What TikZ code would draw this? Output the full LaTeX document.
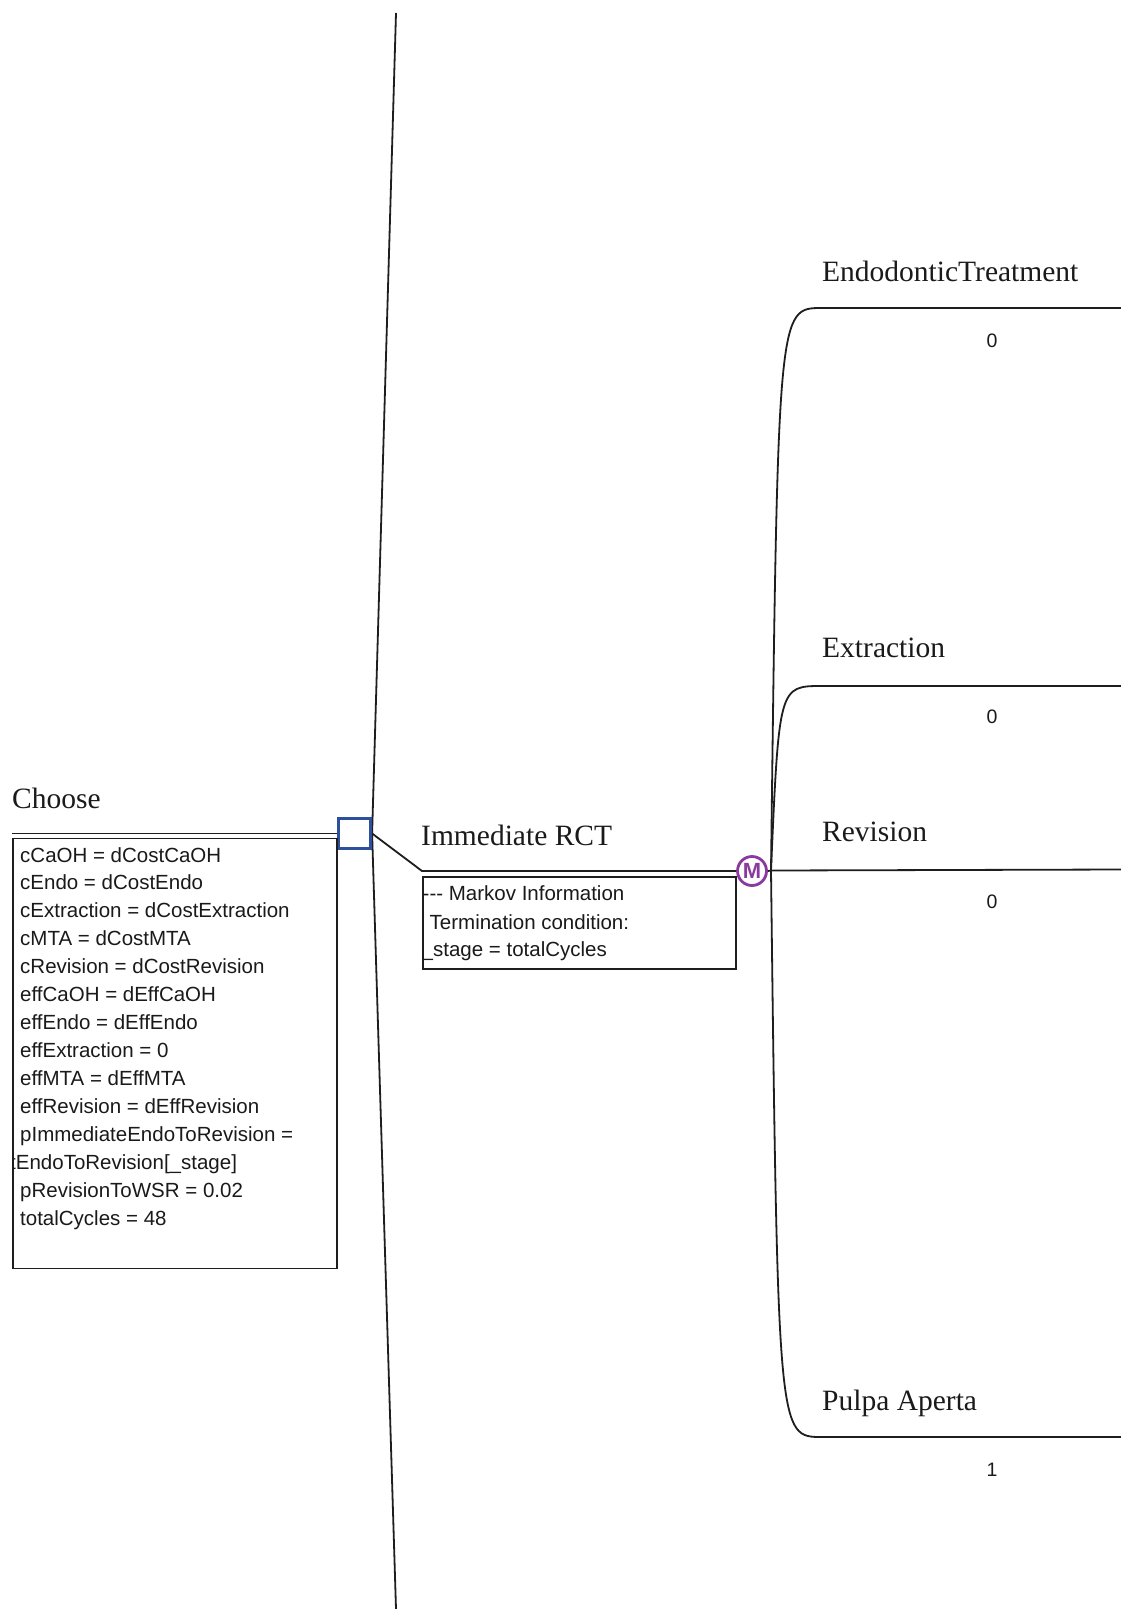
\documentclass[tikz,border=0pt]{standalone}
\usepackage{fontspec}
\setmainfont{Liberation Serif}
\newfontfamily\treesans{Liberation Sans}
\definecolor{ink}{HTML}{1E1E1E}
\definecolor{txt}{HTML}{1A1A1A}
\definecolor{decblue}{HTML}{2D4F9E}
\definecolor{markovpurple}{HTML}{8A3A9E}
\begin{document}
\begin{tikzpicture}[x=1pt,y=-1pt,
  wire/.style={draw=ink,line width=1.8pt},
  frame/.style={draw=ink,line width=1.6pt,rectangle,inner sep=0pt,outer sep=0pt,anchor=north west},
  brlabel/.style={anchor=base west,inner sep=0pt,text=txt,font=\fontsize{29.5}{32}\selectfont},
  vartext/.style={anchor=base west,inner sep=0pt,text=txt,font=\treesans\fontsize{20.5}{24}\selectfont},
  payoff/.style={inner sep=0pt,text=txt,font=\treesans\fontsize{19.5}{22}\selectfont},
  decnode/.style={draw=decblue,line width=3.2pt,fill=white,rectangle,minimum width=32pt,minimum height=30pt,inner sep=0pt},
  markovnode/.style={circle,draw=markovpurple,line width=2.8pt,fill=white,minimum size=29pt,inner sep=0pt,text=markovpurple,font=\treesans\bfseries\fontsize{22}{24}\selectfont}]

\useasboundingbox (0,0) rectangle (1121,1609);
\fill[white] (0,0) rectangle (1121,1609);

% ---------- decision node and its branches ----------
\coordinate (topend) at (396,13);
\coordinate (botend) at (396,1609);
\coordinate (chooseL) at (12,833.5);
\coordinate (rctknee) at (422,871);

\node[decnode] (dec) at (354.5,833.5) {};
\draw[wire] (dec.east) -- (topend);
\draw[wire] (dec.east) -- (botend);
\draw[wire] (chooseL) -- (dec.west);
\node[decnode] at (dec) {};

\node[brlabel] (choose) at (12,808) {Choose};

% variable definitions box
\node[frame,minimum width=324.3pt,minimum height=430pt] (defs) at (12.7,838.5) {};
\begin{scope}
  \clip (12.7,838.5) rectangle (337,1268.5);
  \foreach \x/\t [count=\i] in {
      20/{cCaOH = dCostCaOH},
      20/{cEndo = dCostEndo},
      20/{cExtraction = dCostExtraction},
      20/{cMTA = dCostMTA},
      20/{cRevision = dCostRevision},
      20/{effCaOH = dEffCaOH},
      20/{effEndo = dEffEndo},
      20/{effExtraction = 0},
      20/{effMTA = dEffMTA},
      20/{effRevision = dEffRevision},
      20/{pImmediateEndoToRevision =},
      10/{tEndoToRevision[\_stage]},
      20/{pRevisionToWSR = 0.02},
      20/{totalCycles = 48}}
    \node[vartext] (def\i) at ({\x},{862+27.93*(\i-1)}) {\t};
\end{scope}

% ---------- Markov branch ----------
\node[markovnode] (mk) at (752,871) {M};
\draw[wire] (dec.east) -- (rctknee) -- (mk.west);
\node[brlabel] (rct) at (421,845) {Immediate RCT};

\node[frame,minimum width=313.3pt,minimum height=92pt] (mkinfo) at (422.7,877) {};
\begin{scope}
  \clip (422.7,877) rectangle (736,969);
  \node[vartext] (mk1) at (422.5,900) {-{}-{}- Markov Information};
  \node[vartext] (mk2) at (429.5,929) {Termination condition:};
  \node[vartext] (mk3) at (421.5,956) {\_stage = totalCycles};
\end{scope}

% ---------- Markov states ----------
\coordinate (mb) at (771,870.5);
\coordinate (b1) at (822,308);   \coordinate (e1) at (1121,308);
\coordinate (b2) at (822,686);   \coordinate (e2) at (1121,686);
\coordinate (e3) at (1121,869.5);
\coordinate (b4) at (822,1437);  \coordinate (e4) at (1121,1437);

\draw[wire] (mk.east) -- (mb);
\draw[wire] (mb) .. controls (778,308) .. (b1) -- (e1);
\draw[wire] (mb) .. controls (779,686) .. (b2) -- (e2);
\draw[wire] (mb) -- (e3);
\draw[wire] (mb) .. controls (778,1437) .. (b4) -- (e4);

\node[brlabel] (s1) at (822,281.7) {EndodonticTreatment};
\node[brlabel] (s2) at (822,657.3) {Extraction};
\node[brlabel] (s3) at (822,841.7) {Revision};
\node[brlabel] (s4) at (822,1410.5) {Pulpa Aperta};

\node[payoff] (v1) at (992,341) {0};
\node[payoff] (v2) at (992,717) {0};
\node[payoff] (v3) at (992,902) {0};
\node[payoff] (v4) at (992,1470) {1};
\end{tikzpicture}
\end{document}
